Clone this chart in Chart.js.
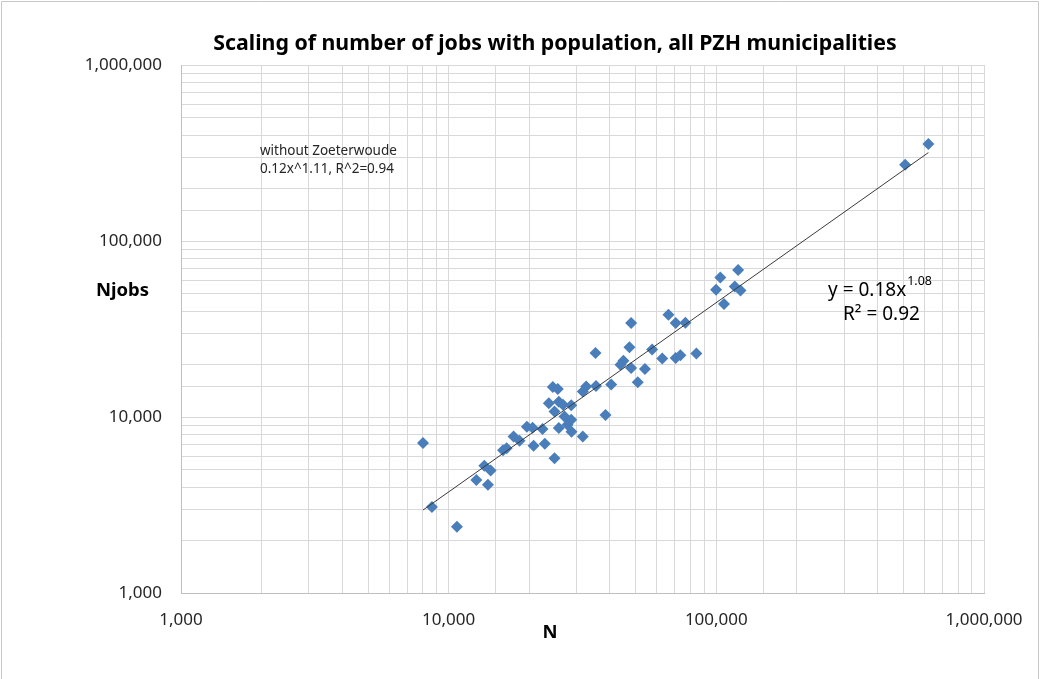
<!DOCTYPE html>
<html>
<head>
<meta charset="utf-8">
<script src="https://cdn.jsdelivr.net/npm/chart.js@4/dist/chart.umd.min.js"></script>
<style>
  body { margin: 0; background: #fff; }
  #wrap { width: 1040px; height: 679px; }
</style>
</head>
<body>
<div id="wrap"><canvas id="scaling" width="1040" height="679"></canvas></div>
<script>
// population per municipality (N)
const popN = [8020, 8660, 10740, 12690, 14020, 13590, 14350, 15970, 16460, 17480,
  18400, 19600, 20580, 20760, 22420, 22870, 24860, 23670, 24500, 25570,
  25790, 26740, 28700, 24860, 27090, 28700, 27800, 28770, 25790, 31700,
  31700, 32650, 35510, 35360, 38540, 40470, 43840, 44980, 47350, 48050,
  48050, 50860, 54110, 57560, 62790, 66220, 70490, 70490, 73400, 76620,
  84220, 99750, 103500, 106800, 117200, 120600, 123100, 507300, 619800];

// number of jobs (Njobs)
const jobs = [7120, 3080, 2380, 4390, 4120, 5290, 4970, 6480, 6650, 7760,
  7330, 8810, 8690, 6870, 8550, 7050, 5830, 11980, 14810, 14420,
  12220, 11750, 11670, 10760, 10080, 9650, 9040, 8250, 8660, 7760,
  13980, 14920, 15000, 23100, 10260, 15320, 19820, 20890, 24930, 18990,
  34200, 15770, 18760, 24220, 21530, 38140, 34200, 21640, 22450, 34330,
  22980, 52880, 62120, 43920, 55210, 68440, 52340, 271400, 355700];

// power trendline end points as drawn
const trendN = [8020, 619800];
const trendJobs = [2960, 318000];

const majorTicks = [1000, 10000, 100000, 1000000];

const font = '"Noto Sans", "DejaVu Sans", sans-serif';

function tickLabel(value) {
  if (majorTicks.includes(value)) return value.toLocaleString('en-US');
  return '';
}

// titles and notes drawn on top
const textPlugin = {
  id: 'texts',
  afterDraw(chart) {
    const ctx = chart.ctx;
    ctx.save();
    ctx.fillStyle = '#000';
    ctx.textBaseline = 'alphabetic';

    ctx.textAlign = 'center';
    ctx.font = 'bold 21.3px ' + font;
    ctx.fillText('Scaling of number of jobs with population, all PZH municipalities', 555, 50);

    ctx.font = 'bold 18.5px ' + font;
    ctx.textAlign = 'left';
    ctx.fillText('Njobs', 96, 296);
    ctx.textAlign = 'center';
    ctx.fillText('N', 550, 638);

    ctx.textAlign = 'left';
    ctx.font = '13.5px ' + font;
    ctx.fillStyle = '#262626';
    ctx.fillText('without Zoeterwoude', 260, 155);
    ctx.fillText('0.12x^1.11, R^2=0.94', 260, 173);

    ctx.fillStyle = '#000';
    ctx.font = '19px ' + font;
    ctx.fillText('y = 0.18x', 828, 296);
    const w = ctx.measureText('y = 0.18x').width;
    ctx.font = '12.5px ' + font;
    ctx.fillText('1.08', 828 + w + 1, 285);
    ctx.font = '19px ' + font;
    ctx.fillText('R\u00b2 = 0.92', 843, 320);

    // outer frame
    ctx.strokeStyle = '#c8c8c8';
    ctx.lineWidth = 1;
    ctx.beginPath();
    ctx.moveTo(1.5, 679);
    ctx.lineTo(1.5, 1.5);
    ctx.lineTo(1038.5, 1.5);
    ctx.lineTo(1038.5, 679);
    ctx.stroke();
    ctx.restore();
  }
};

const ctx = document.getElementById('scaling').getContext('2d');

new Chart(ctx, {
  data: {
    datasets: [
      {
        type: 'line',
        label: 'trend',
        data: trendN.map((n, i) => ({ x: n, y: trendJobs[i] })),
        borderColor: '#3a3a3a',
        borderWidth: 1,
        pointRadius: 0,
        fill: false,
        order: 0
      },
      {
        type: 'scatter',
        label: 'Njobs',
        data: popN.map((n, i) => ({ x: n, y: jobs[i] })),
        pointStyle: 'rectRot',
        pointRadius: 6,
        pointHoverRadius: 6,
        backgroundColor: '#4a7ebb',
        borderColor: '#4a7ebb',
        borderWidth: 0,
        order: 1
      }
    ]
  },
  options: {
    responsive: false,
    animation: false,
    layout: { padding: { left: 0, top: 65, right: 56, bottom: 0 } },
    plugins: {
      legend: { display: false },
      title: { display: false },
      tooltip: { enabled: false }
    },
    scales: {
      x: {
        type: 'logarithmic',
        min: 1000,
        max: 1000000,
        afterFit(scale) { scale.height = 86; },
        grid: { color: '#d9d9d9', drawTicks: false },
        border: { color: '#bfbfbf' },
        ticks: {
          autoSkip: false,
          maxRotation: 0,
          padding: 17,
          color: '#262626',
          font: { family: font, size: 17 },
          callback: tickLabel
        }
      },
      y: {
        type: 'logarithmic',
        min: 1000,
        max: 1000000,
        afterFit(scale) { scale.width = 181; },
        grid: { color: '#d9d9d9', drawTicks: false },
        border: { color: '#bfbfbf' },
        ticks: {
          autoSkip: false,
          padding: 19,
          color: '#262626',
          font: { family: font, size: 17 },
          callback: tickLabel
        }
      }
    }
  },
  plugins: [textPlugin]
});
</script>
</body>
</html>
